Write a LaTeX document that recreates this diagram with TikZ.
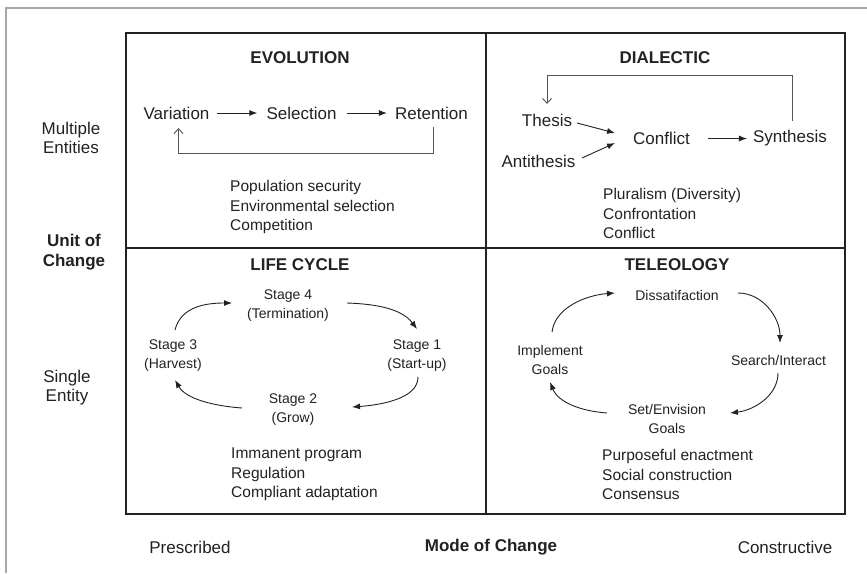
\documentclass[tikz,border=0pt]{standalone}
\usepackage{fontspec}
\setmainfont{Liberation Sans}
\usetikzlibrary{arrows.meta}
\definecolor{ink}{HTML}{222222}
\definecolor{fbgrey}{HTML}{555555}
\definecolor{framegrey}{HTML}{A8A8A8}
\newcommand{\fsz}[2]{\fontsize{#1}{#2}\selectfont}
\begin{document}
\begin{tikzpicture}[x=1pt,y=-1pt,
  every node/.style={inner sep=0pt,text=ink},
  ttl/.style={font=\bfseries\fsz{17}{20}},
  big/.style={font=\fsz{17}{19},align=center},
  axb/.style={font=\bfseries\fsz{17}{20},align=center},
  sml/.style={font=\fsz{14}{19},align=center},
  lst/.style={font=\fsz{15.5}{19.5},align=left,anchor=west},
  arr/.style={draw=ink,line width=0.9pt,-{Latex[length=8pt,width=6pt]}},
  fb/.style={draw=fbgrey,line width=0.9pt,-{Straight Barb[length=5pt,width=9pt]}},
  gridline/.style={draw=ink,line width=1.6pt},
  outerframe/.style={draw=framegrey,line width=2.7pt}
]
\useasboundingbox (0,0) rectangle (867,573);
\fill[white] (0,0) rectangle (867,573);
% outer frame (top and left only)
\draw[outerframe] (6,573) -- (6,8) -- (867,8);
% main grid
\draw[gridline] (126,33) rectangle (845,514);
\draw[gridline] (126,248) -- (845,248);
\draw[gridline,line width=2pt] (486,33) -- (486,514);

% titles
\node[ttl] (evo) at (300,58) {EVOLUTION};
\node[ttl] (dia) at (665,58) {DIALECTIC};
\node[ttl] (lif) at (300,265) {LIFE CYCLE};
\node[ttl] (tel) at (677,265) {TELEOLOGY};

% evolution
\node[big] (var) at (176.5,113) {Variation};
\node[big] (sel) at (301.5,113) {Selection};
\node[big] (ret) at (431.5,113) {Retention};
\draw[arr,shorten <=7pt,shorten >=9pt] (var.east) -- (sel.west);
\draw[arr,shorten <=10pt,shorten >=8pt] (sel.east) -- (ret.west);
\draw[fb] ([shift={(1.5pt,-14pt)}]ret.center) -- ++(0,26) -| ([shift={(2pt,-15pt)}]var.center);
\node[lst] (evl) at (230,207) {Population security\\Environmental selection\\Competition};

% dialectic
\node[big] (the) at (547,120) {Thesis};
\node[big] (ant) at (538.5,161) {Antithesis};
\node[big] (con) at (661.5,138.5) {Conflict};
\node[big] (syn) at (790,138.5) {Synthesis};
\draw[arr] ([shift={(30pt,-3pt)}]the.center) -- ([shift={(-46.5pt,5.5pt)}]con.center);
\draw[arr] ([shift={(43.5pt,3pt)}]ant.center) -- ([shift={(-46.5pt,-4.5pt)}]con.center);
\draw[arr,shorten <=18pt,shorten >=6pt] (con.east) -- (syn.west);
\draw[fb] ([shift={(2pt,17.5pt)}]syn.center) -- ++(0,-46) -| ([shift={(0pt,16pt)}]the.center);
\node[lst] (dil) at (603,213.5) {Pluralism (Diversity)\\Confrontation\\Conflict};

% life cycle
\node[sml] (s4) at (288,306) {Stage 4\\(Termination)};
\node[sml] (s3) at (173,356) {Stage 3\\(Harvest)};
\node[sml] (s1) at (417,356) {Stage 1\\(Start-up)};
\node[sml] (s2) at (293,409.5) {Stage 2\\(Grow)};
\draw[arr] ([shift={(2pt,26pt)}]s3.center) .. controls +(6,-24) and +(-25,0) .. ([shift={(-56pt,3pt)}]s4.center);
\draw[arr] ([shift={(59pt,3pt)}]s4.center) .. controls +(30,1) and +(-15,-20) .. ([shift={(0pt,27pt)}]s1.center);
\draw[arr] ([shift={(1pt,-21pt)}]s1.center) .. controls +(0,22) and +(28,-2) .. ([shift={(59pt,2.5pt)}]s2.center);
\draw[arr] ([shift={(-51pt,1.5pt)}]s2.center) .. controls +(-28,-2) and +(11,19) .. ([shift={(2pt,-24pt)}]s3.center);
\node[lst] (lcl) at (231,474.5) {Immanent program\\Regulation\\Compliant adaptation};

% teleology
\node[sml] (dis) at (677,295) {Dissatifaction};
\node[sml] (imp) at (550,359.5) {Implement\\Goals};
\node[sml] (sea) at (778.5,360) {Search/Interact};
\node[sml] (set) at (667,418.5) {Set/Envision\\Goals};
\draw[arr] ([shift={(2pt,27.5pt)}]imp.center) .. controls +(3,-25) and +(-28,2) .. ([shift={(-62pt,2pt)}]dis.center);
\draw[arr] ([shift={(61pt,2pt)}]dis.center) .. controls +(25,0) and +(0,-25) .. ([shift={(1.5pt,17pt)}]sea.center);
\draw[arr] ([shift={(-0.5pt,-13pt)}]sea.center) .. controls +(0,22) and +(25,-3) .. ([shift={(63pt,5.5pt)}]set.center);
\draw[arr] ([shift={(-60pt,5.5pt)}]set.center) .. controls +(-27,-2) and +(8,20) .. ([shift={(0pt,-22.5pt)}]imp.center);
\node[lst] (tll) at (602,474.5) {Purposeful enactment\\Social construction\\Consensus};

% axis labels
\node[big] (mul) at (71,137.5) {Multiple\\Entities};
\node[axb] (uoc) at (74,252) {Unit of\\Change};
\node[big] (sin) at (67,388) {Single\\Entity};
\node[big] (pre) at (190,547) {Prescribed};
\node[axb] (moc) at (491,547) {Mode of Change};
\node[big] (cns) at (785,547) {Constructive};
\end{tikzpicture}
\end{document}
